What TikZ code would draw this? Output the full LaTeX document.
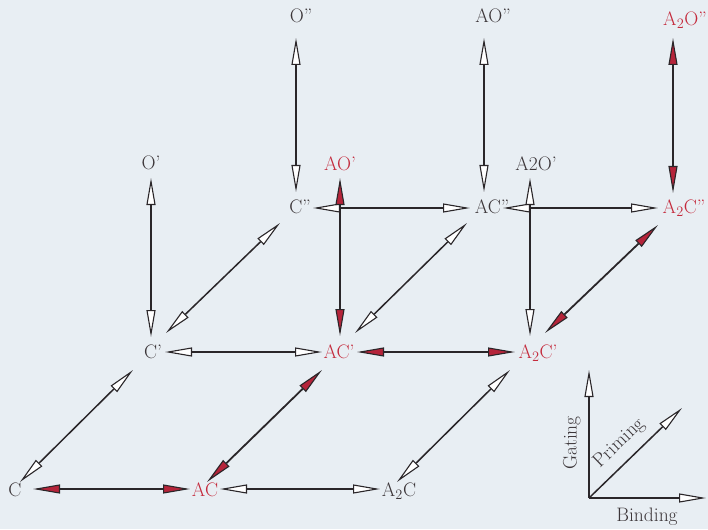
\documentclass[tikz,border=0pt]{standalone}
\usetikzlibrary{arrows.meta,calc}
\definecolor{bg}{HTML}{E8EEF3}
\definecolor{ink}{HTML}{2A2629}
\definecolor{txt}{HTML}{3C3639}
\definecolor{rtxt}{HTML}{C42A3C}
\definecolor{rfill}{HTML}{B5243A}
\tikzset{
  wtip/.tip={Triangle[length=27pt,width=9pt,fill=white,line width=1.1pt]},
  rtip/.tip={Triangle[length=27pt,width=9pt,fill=rfill,line width=1.1pt]},
}
\begin{document}
\begin{tikzpicture}[x=1pt,y=-1pt,
  lbl/.style={inner sep=0pt,text height=13pt,text depth=0pt,font=\fontsize{19.5}{22}\selectfont,text=txt},
  rlbl/.style={lbl,text=rtxt},
  wa/.style={draw=ink,line width=1.5pt,arrows={wtip-wtip}},
  ra/.style={draw=ink,line width=1.8pt,arrows={rtip-rtip}},
  wone/.style={draw=ink,line width=1.5pt,arrows={-wtip}},
]
\fill[bg] (0,0) rectangle (708,529);
\useasboundingbox (0,0) rectangle (708,529);

% states
\node[lbl]  (C)     at (15,490)  {C};
\node[rlbl] (AC)    at (205,490) {AC};
\node[lbl]  (A2C)   at (399,490) {A$_2$C};
\node[lbl]  (Cp)    at (153,352) {C'};
\node[rlbl] (ACp)   at (339,352) {AC'};
\node[rlbl] (A2Cp)  at (538,352) {A$_2$C'};
\node[lbl]  (Cpp)   at (300,207) {C''};
\node[lbl]  (ACpp)  at (492,207) {AC''};
\node[rlbl] (A2Cpp) at (684,207) {A$_2$C''};
\node[lbl]  (Op)    at (151,163) {O'};
\node[rlbl] (AOp)   at (340,164) {AO'};
\node[lbl]  (A2Op)  at (536,164) {A2O'};
\node[lbl]  (Opp)   at (301,16)  {O''};
\node[lbl]  (AOpp)  at (493,16)  {AO''};
\node[rlbl] (A2Opp) at (685,19)  {A$_2$O''};

% horizontal (binding)
\draw[ra] ($(C)+(18,-1)$)    -- ($(AC)+(-15,-1)$);
\draw[wa] ($(AC)+(15,-1)$)   -- ($(A2C)+(-19,-1)$);
\draw[wa] ($(Cp)+(12,0)$)    -- ($(ACp)+(-17,0)$);
\draw[ra] ($(ACp)+(18,0)$)   -- ($(A2Cp)+(-23,0)$);
\draw[wa] ($(Cpp)+(13,1)$)   -- ($(ACpp)+(-22,1)$);
\draw[wa] ($(ACpp)+(11,1)$)  -- ($(A2Cpp)+(-26,1)$);

% diagonal (priming)
\draw[wa] ($(C)+(5,-8)$)     -- ($(Cp)+(-20,18)$);
\draw[ra] ($(AC)+(2,-8)$)    -- ($(ACp)+(-17,18)$);
\draw[wa] ($(A2C)+(-2,-8)$)  -- ($(A2Cp)+(-28,18)$);
\draw[wa] ($(Cp)+(13,-19)$)  -- ($(Cpp)+(-20,16)$);
\draw[wa] ($(ACp)+(16,-19)$) -- ($(ACpp)+(-25,16)$);
\draw[ra] ($(A2Cp)+(7,-19)$) -- ($(A2Cpp)+(-26,18)$);

% vertical (gating)
\draw[wa] ($(Op)+(0,15)$)    -- ($(Cp)+(-2,-15)$);
\draw[wa] ($(Opp)+(-5,22)$)  -- ($(Cpp)+(-4,-15)$);
\draw[ra] ($(AOp)+(0,14)$)   -- ($(ACp)+(1,-16)$);
\draw[wa] ($(AOpp)+(-9,22)$) -- ($(ACpp)+(-8,-15)$);
\draw[wa] ($(A2Op)+(-6,14)$) -- ($(A2Cp)+(-8,-16)$);
\draw[ra] ($(A2Opp)+(-12,19)$) -- ($(A2Cpp)+(-11,-14)$);

% legend
\coordinate (lo) at (589,498);
\coordinate (lg) at (589,370);
\coordinate (lb) at (706,498);
\coordinate (lp) at (682,408);
\draw[wone] (lo) -- (lg);
\draw[wone] (lo) -- (lb);
\draw[wone] (lo) -- (lp);
\node[lbl,rotate=90] (gat) at (570,443) {Gating};
\node[lbl,rotate=44] (pri) at (618,442) {Priming};
\node[lbl] (bin) at (647,515) {Binding};
\end{tikzpicture}
\end{document}
